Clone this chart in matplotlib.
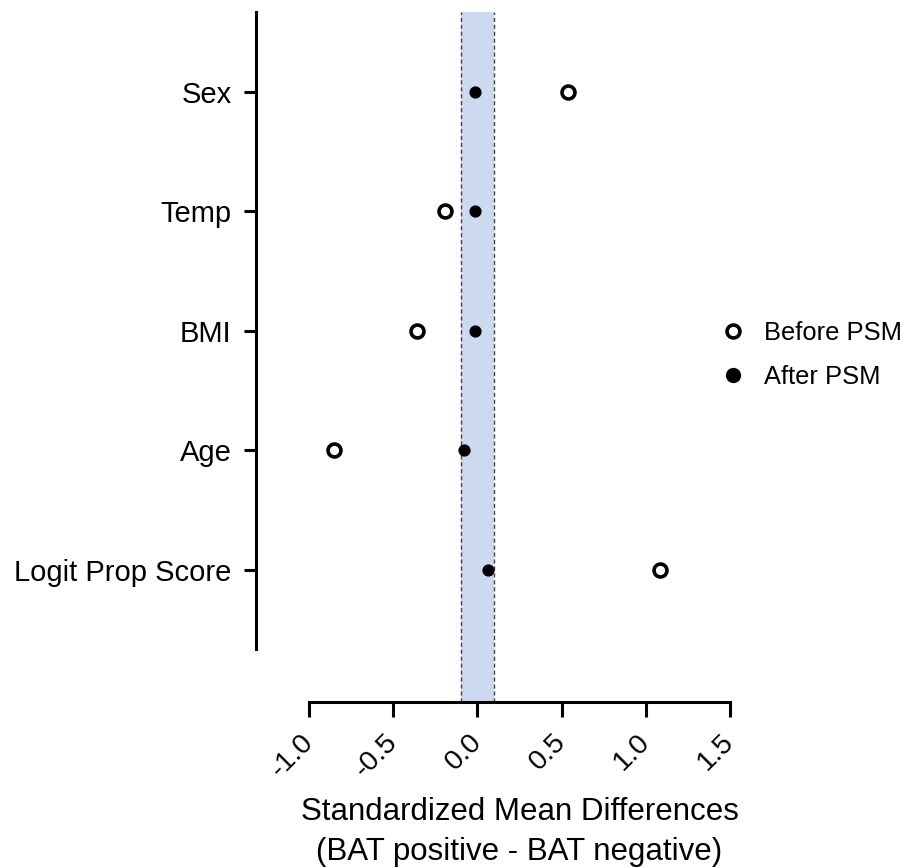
import matplotlib
matplotlib.use("Agg")
import matplotlib.pyplot as plt
import matplotlib.transforms as mtransforms
from matplotlib.lines import Line2D

plt.rcParams['font.family'] = ['Liberation Sans', 'DejaVu Sans']

categories = ["Logit Prop Score", "Age", "BMI", "Temp", "Sex"]
before_psm = [1.085, -0.85, -0.36, -0.19, 0.54]
after_psm = [0.06, -0.08, -0.015, -0.015, -0.015]
xticks = [-1.0, -0.5, 0.0, 0.5, 1.0, 1.5]
xtick_labels = ["-1.0", "-0.5", "0.0", "0.5", "1.0", "1.5"]
band = (-0.1, 0.1)

W, H = 905, 868
fig = plt.figure(figsize=(W / 100, H / 100), dpi=100)
ax_l, ax_r, ax_t, ax_b = 256, 730, 12, 702
ax = fig.add_axes([ax_l / W, 1 - ax_b / H, (ax_r - ax_l) / W, (ax_b - ax_t) / H])

ypos = list(range(len(categories)))
ax.axvspan(band[0], band[1], color='#ccd9ee', zorder=0, lw=0)
for b in band:
    ax.axvline(b, color='#444444', lw=1.0, ls=(0, (3, 2)), zorder=1)

ax.plot(before_psm, ypos, 'o', ms=9.3, mfc='white', mec='black', mew=2.6,
        ls='none', zorder=3, label='Before PSM')
ax.plot(after_psm, ypos, 'o', ms=8.8, mfc='black', mec='black', mew=0,
        ls='none', zorder=3, label='After PSM')

ax.set_xlim(-1.3147, 1.5)
ax.set_ylim(-1.105, 4.669)

for s in ['top', 'right']:
    ax.spines[s].set_visible(False)
for s in ['left', 'bottom']:
    ax.spines[s].set_linewidth(2.2)
ax.spines['bottom'].set_bounds(-1.0, 1.5)
ax.spines['left'].set_bounds(-0.661, 4.669)

ax.set_yticks(ypos)
ax.set_yticklabels(categories, fontsize=21)
ax.set_xticks(xticks)
ax.set_xticklabels(xtick_labels, fontsize=20.5, rotation=45, ha='right',
                   va='top', rotation_mode='anchor')
ax.tick_params(axis='y', length=8.5, width=2.2, pad=9)
ax.tick_params(axis='x', length=11, width=2.2, pad=7)
off = mtransforms.ScaledTranslation(-9 / 100, -2 / 100, fig.dpi_scale_trans)
for lab in ax.get_xticklabels():
    lab.set_transform(lab.get_transform() + off)

ax.set_xlabel("Standardized Mean Differences\n(BAT positive - BAT negative)",
              fontsize=22.5, linespacing=1.4, labelpad=11)
ax.xaxis.label.set_x((519.5 - ax_l) / (ax_r - ax_l))

leg = fig.legend(handles=[
    Line2D([], [], marker='o', ms=9.3, mfc='white', mec='black', mew=2.6, ls='none', label='Before PSM'),
    Line2D([], [], marker='o', ms=11, mfc='black', mec='black', mew=0, ls='none', label='After PSM')],
    loc='center left', bbox_to_anchor=(705 / W, 1 - 355 / H), frameon=False,
    fontsize=18.4, handletextpad=0.6, labelspacing=0.8, borderpad=0, handlelength=1.2)

fig.savefig("out.png", dpi=100, facecolor='white')
